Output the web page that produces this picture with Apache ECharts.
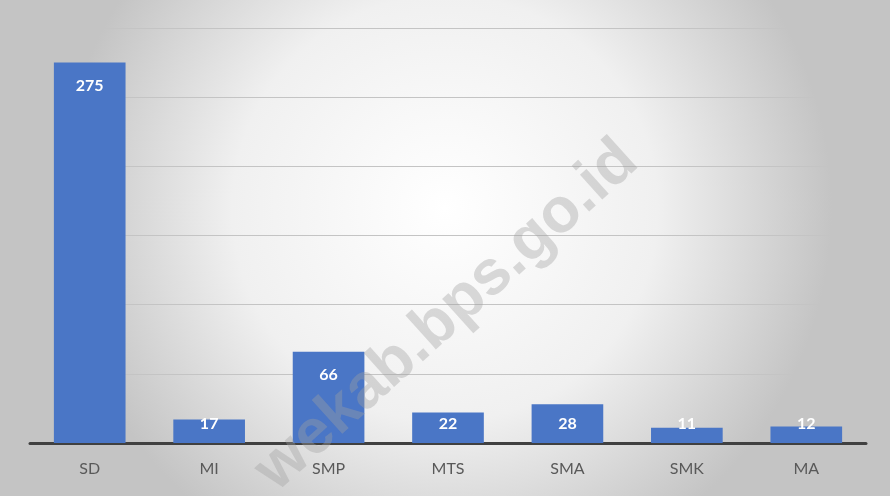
<!DOCTYPE html>
<html>
<head>
<meta charset="utf-8">
<script src="https://cdn.jsdelivr.net/npm/echarts@6/dist/echarts.min.js"></script>
<style>
  html, body { margin: 0; padding: 0; }
  #main { width: 890px; height: 496px; }
</style>
</head>
<body>
<div id="main"></div>
<script>
// data
var categories = ['SD', 'MI', 'SMP', 'MTS', 'SMA', 'SMK', 'MA'];
var values = [275, 17, 66, 22, 28, 11, 12];

var myChart = echarts.init(document.getElementById('main'));

// short bars: label sits near the axis, tall bars: label just below the top
var barData = values.map(function (v) {
    var short = v < 32;
    return {
        value: v,
        label: short ? { position: 'insideBottom', distance: 11 } : { position: 'insideTop', distance: 15 }
    };
});

var option = {
    backgroundColor: {
        type: 'radial', x: 0.5, y: 0.42, r: 0.78,
        colorStops: [
            { offset: 0, color: '#ffffff' },
            { offset: 0.55, color: '#f0f0f0' },
            { offset: 1, color: '#c4c4c4' }
        ]
    },
    grid: { left: 30, right: 24, top: 28, bottom: 53 },
    xAxis: {
        type: 'category',
        data: categories,
        axisTick: { show: false },
        axisLine: { lineStyle: { color: '#404040', width: 3 } },
        axisLabel: { color: '#595959', fontSize: 16, margin: 18, fontFamily: 'Lato' }
    },
    yAxis: {
        type: 'value',
        min: 0, max: 300, interval: 50,
        axisLabel: { show: false },
        axisLine: { show: false },
        axisTick: { show: false },
        splitLine: { lineStyle: { color: '#c4c4c4', width: 1 } }
    },
    series: [{
        type: 'bar',
        data: barData,
        barCategoryGap: '40%',
        itemStyle: { color: '#4a76c6' },
        label: {
            show: true,
            color: '#ffffff',
            fontSize: 16,
            fontWeight: 'bold',
            fontFamily: 'Lato'
        }
    }],
    graphic: [{
        type: 'text',
        x: 447, y: 316,
        rotation: Math.PI * 42 / 180,
        z: 100,
        style: {
            text: 'wekab.bps.go.id',
            x: 0, y: 0,
            align: 'center',
            verticalAlign: 'middle',
            fontSize: 63,
            fontWeight: 'bold',
            fontFamily: 'Liberation Sans',
            fill: 'rgba(160,160,160,0.38)'
        }
    }]
};

myChart.setOption(option);
</script>
</body>
</html>
